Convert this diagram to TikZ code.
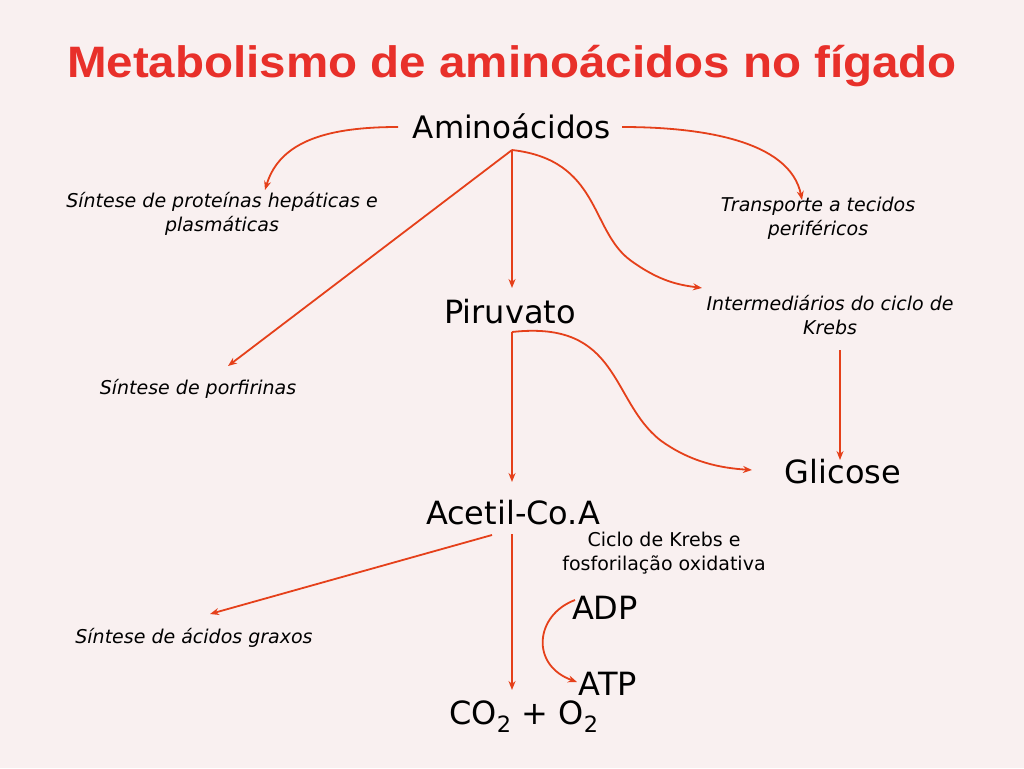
\documentclass[tikz,border=0pt]{standalone}
\usepackage{fontspec}
\setmainfont{DejaVu Sans}
\newfontfamily\titlefont{Liberation Sans}
\usetikzlibrary{arrows.meta}
\definecolor{bg}{HTML}{F9F0F0}
\definecolor{ar}{HTML}{E5401A}
\definecolor{tt}{HTML}{E8302A}
\begin{document}
\begin{tikzpicture}[x=1pt,y=-1pt,
  lbl/.style={font=\fontsize{19}{24}\selectfont\itshape, align=center, inner sep=1pt},
  big/.style={font=\fontsize{32}{36}\selectfont, inner sep=1pt},
  con/.style={draw=ar, line width=1.8pt, -{Stealth[length=9pt,width=7pt]}}]
\fill[bg] (0,0) rectangle (1024,768);
\useasboundingbox (0,0) rectangle (1024,768);
\node[font=\titlefont\bfseries\fontsize{44}{50}\selectfont, text=tt, xscale=1.08] (title) at (512,66) {Metabolismo de aminoácidos no fígado};
\node[big, font=\fontsize{31}{36}\selectfont] (amino) at (512,126) {Aminoácidos};
\node[lbl] (prot) at (222,214) {Síntese de proteínas hepáticas e\\plasmáticas};
\node[lbl] (transp) at (818,218) {Transporte a tecidos\\periféricos};
\node[big] (piru) at (510,312) {Piruvato};
\node[lbl] (inter) at (830,315) {Intermediários do ciclo de\\Krebs};
\node[lbl] (porf) at (198,389) {Síntese de porfirinas};
\node[big] (glic) at (843,472) {Glicose};
\node[big] (acetil) at (513,513) {Acetil-Co.A};
\node[lbl, font=\fontsize{19}{24}\selectfont] (ciclo) at (664,553) {Ciclo de Krebs e\\fosforilação oxidativa};
\node[big] (adp) at (605,608) {ADP};
\node[lbl] (acid) at (194,638) {Síntese de ácidos graxos};
\node[big] (atp) at (608,684) {ATP};
\node[big] (co2) at (524,717) {CO\textsubscript{2} + O\textsubscript{2}};
\coordinate (aL) at (398,127);
\coordinate (aR) at (622,127);
\coordinate (aB) at (512,150);
\coordinate (pB) at (512,332);
\coordinate (cB) at (512,534);
\draw[con] (aL) .. controls (330,127) and (280,140) .. (265,190);
\draw[con] (aR) .. controls (700,127) and (790,140) .. (802,200);
\draw[con] (aB) -- (512,288);
\draw[con] (aB) .. controls (600,160) and (590,230) .. (630,260) .. controls (660,282) and (680,285) .. (702,288);
\draw[con] (aB) -- (228,366);
\draw[con] (pB) -- (512,482);
\draw[con] (pB) .. controls (620,320) and (610,400) .. (660,440) .. controls (690,462) and (720,468) .. (752,470);
\draw[con] (840,350) -- (840,460);
\draw[con] (492,535) -- (210,614);
\draw[con] (cB) -- (512,690);
\draw[con] (575,600) .. controls (535,615) and (530,665) .. (577,682);
\end{tikzpicture}
\end{document}
